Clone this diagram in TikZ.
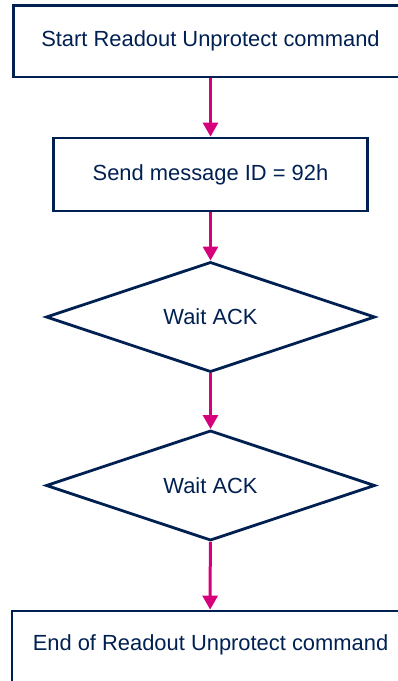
\documentclass[tikz,border=0pt]{standalone}
\usepackage{fontspec}
\setmainfont{Liberation Sans}
\usetikzlibrary{arrows.meta,shapes.geometric}
\definecolor{stnavy}{RGB}{0,32,82}
\definecolor{stpink}{RGB}{214,0,122}
\tikzset{
  box/.style={rectangle,draw=stnavy,line width=2.8pt,text=stnavy,inner sep=0pt},
  test/.style={diamond,draw=stnavy,line width=2.8pt,text=stnavy,inner sep=0pt,
    minimum width=329pt,minimum height=99pt},
  flow/.style={stpink,line width=3pt,-{Triangle[length=14pt,width=15pt]}},
  lbl/.style={font=\fontsize{21.9}{26}\selectfont},
}
\begin{document}
\begin{tikzpicture}[x=1pt,y=-1pt]
    \clip (0,0) rectangle (398,681);
    % ---- the steps, top to bottom ----
    \node[box,lbl,minimum width=394pt,minimum height=71.5pt] (start) at (210.5,41.3) {Start Readout Unprotect command};
    \node[box,lbl,minimum width=314pt,minimum height=73pt] (send) at (210.5,174.5) {Send message ID = 92h};
    \node[test,lbl] (ack1) at (210.5,317) {Wait ACK};
    \node[test,lbl] (ack2) at (210.5,485.5) {Wait ACK};
    \node[box,minimum width=396pt,minimum height=72pt] (stop) at (210,647) {};
    \node[lbl,text=stnavy] (stoptxt) at (210.5,645) {End of Readout Unprotect command};
    % ---- flow arrows ----
    \draw[flow] (start) -- (send);
    \draw[flow] (send) -- (ack1);
    \draw[flow] (ack1) -- (ack2);
    \draw[flow] (ack2) -- (stop);
\end{tikzpicture}
\end{document}
